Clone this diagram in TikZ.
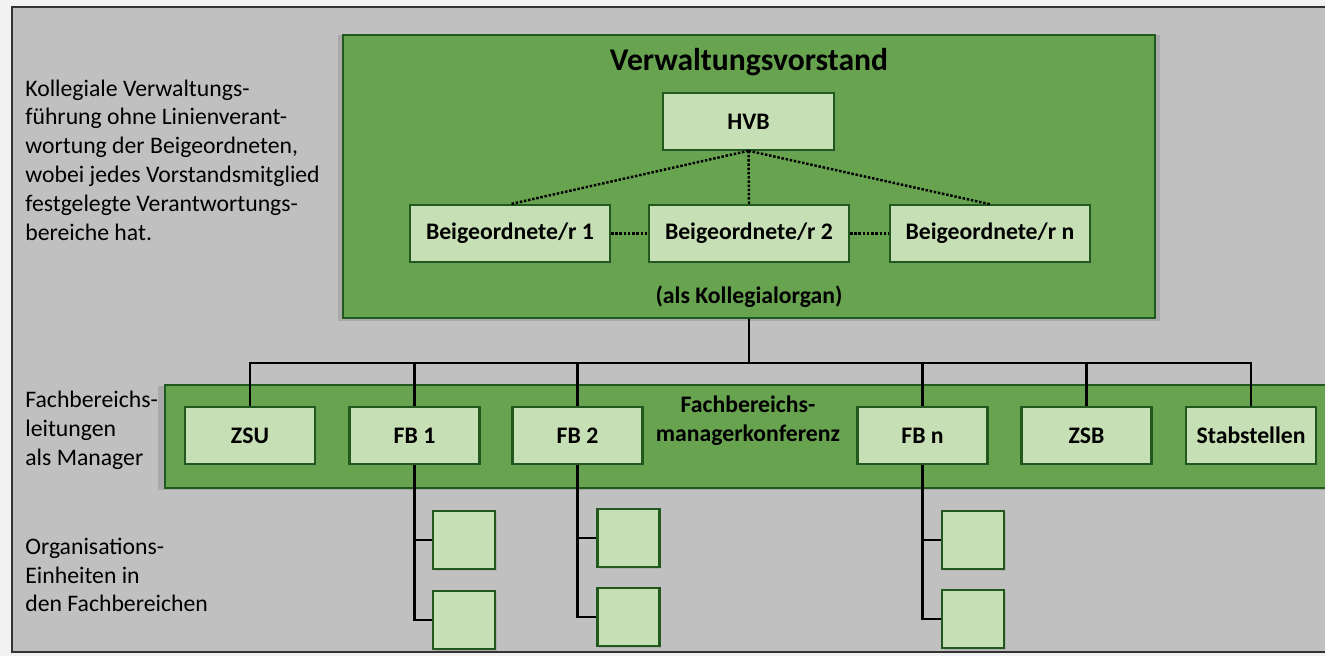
\documentclass[tikz,border=0pt]{standalone}
\usepackage{fontspec}
\setmainfont{Carlito}
\usetikzlibrary{shadows}
\definecolor{bggray}{RGB}{192,192,192}
\definecolor{panelgreen}{RGB}{104,163,80}
\definecolor{boxgreen}{RGB}{198,223,180}
\definecolor{framegreen}{RGB}{32,88,30}
\begin{document}
\begin{tikzpicture}[x=0.02cm, y=-0.02cm,
            panel/.style = {draw=framegreen, line width=1.2pt, fill=panelgreen,
                drop shadow={shadow xshift=0pt, shadow yshift=-1pt, shadow scale=1.012, opacity=0.35}},
            kbox/.style = {draw=framegreen, line width=1.2pt, fill=boxgreen, inner sep=0pt,
                minimum height=1.13cm, font=\bfseries\fontsize{13.5}{16}\selectfont,
                drop shadow={shadow xshift=1pt, shadow yshift=-1pt, opacity=0.25}},
            unitbox/.style = {kbox, minimum width=1.24cm, minimum height=1.15cm},
            dots/.style = {densely dotted, line width=1.4pt},
            link/.style = {line width=1.4pt},
            note/.style = {anchor=west, align=left, inner sep=0pt, font=\fontsize{13.5}{16.4}\selectfont}]
            \useasboundingbox (0,0) rectangle (1325,656);
            \fill[black!5] (0,0) rectangle (1325,656);
            \draw[fill=bggray, draw=black!80, line width=1.4pt] (12,7) rectangle (1345,652);

            % Verwaltungsvorstand
            \node[panel, minimum width=16.24cm, minimum height=5.66cm] (vv) at (749,176.5) {};
            \node[font=\bfseries\fontsize{18}{21}\selectfont] (vvtitle) at (749,62) {Verwaltungsvorstand};
            \node[kbox, minimum width=3.42cm] (hvb) at (748.5,121.5) {HVB};
            \node[kbox, minimum width=4cm] (b1) at (510,233.5) {Beigeordnete/r 1};
            \node[kbox, minimum width=4cm] (b2) at (749,233.5) {Beigeordnete/r 2};
            \node[kbox, minimum width=4cm] (bn) at (990,233.5) {Beigeordnete/r n};
            \node[font=\bfseries\fontsize{13.5}{16}\selectfont] (organ) at (749,297) {(als Kollegialorgan)};
            \draw[dots] (hvb.south) -- (b1.north);
            \draw[dots] (hvb.south) -- (b2.north);
            \draw[dots] (hvb.south) -- (bn.north);
            \draw[dots] (b1.east) -- (b2.west);
            \draw[dots] (b2.east) -- (bn.west);

            % Fachbereiche
            \node[panel, minimum width=23.5cm, minimum height=2.06cm] (band) at (752.5,436.5) {};
            \node[align=center, font=\bfseries\fontsize{13.5}{16.4}\selectfont] (konf) at (748,421) {Fachbereichs-\\managerkonferenz};
            \node[kbox, minimum width=2.6cm] (zsu) at (250,435.5) {ZSU};
            \node[kbox, minimum width=2.6cm] (fb1) at (414.5,435.5) {FB 1};
            \node[kbox, minimum width=2.6cm] (fb2) at (577.5,435.5) {FB 2};
            \node[kbox, minimum width=2.6cm] (fbn) at (922.5,435.5) {FB n};
            \node[kbox, minimum width=2.6cm] (zsb) at (1086.5,435.5) {ZSB};
            \node[kbox, minimum width=2.6cm] (stab) at (1251,435.5) {Stabstellen};
            \coordinate (bus) at (749,363);
            \draw[link] (vv.south) -- (bus);
            \draw[link] (zsu.north) -- (zsu.north |- bus) -- (stab.north |- bus) -- (stab.north);
            \foreach \n in {fb1,fb2,fbn,zsb}
                \draw[link] (\n.north) -- (\n.north |- bus);

            % Organisationseinheiten
            \node[unitbox] (fb1-a) at (464,540) {};
            \node[unitbox] (fb1-b) at (464,620) {};
            \node[unitbox] (fb2-a) at (628.5,538) {};
            \node[unitbox] (fb2-b) at (628.5,617) {};
            \node[unitbox] (fbn-a) at (973,540) {};
            \node[unitbox] (fbn-b) at (973,619) {};
            \foreach \n in {fb1,fb2,fbn} {
                \draw[link] (\n.south) |- (\n-a.west);
                \draw[link] (\n.south) |- (\n-b.west);
            }

            % Beschriftung links
            \node[note] (txtvv) at (25,160) {Kollegiale Verwaltungs-\\führung ohne Linienverant-\\wortung der Beigeordneten,\\wobei jedes Vorstandsmitglied\\festgelegte Verantwortungs-\\bereiche hat.};
            \node[note] (txtfb) at (25,430.5) {Fachbereichs-\\leitungen\\als Manager};
            \node[note] (txtoe) at (25,575) {Organisations-\\Einheiten in\\den Fachbereichen};
        \end{tikzpicture}
\end{document}
